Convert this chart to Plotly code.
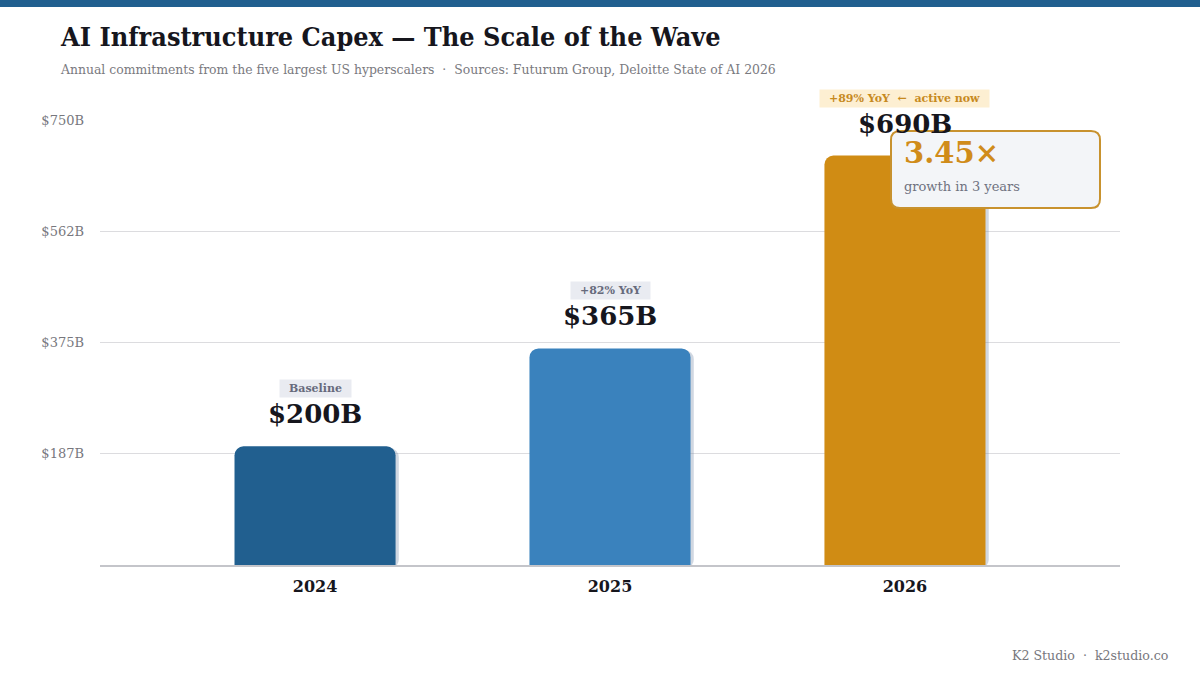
import plotly.graph_objects as go

years = ["2024", "2025", "2026"]
capex = [200, 365, 690]
bar_colors = ["#215f8f", "#3a82bd", "#d08c14"]
tags = ["Baseline", None, None]
y_ticks = [187.5, 375, 562.5, 750]

W, H = 1200, 675
L, R, T, B = 100, 80, 120, 110
SERIF = "DejaVu Serif"
COND = "DejaVu Serif Condensed, DejaVu Serif"


def px(x):
    return (x - L) / (W - L - R)


def py(y):
    return (H - B - y) / (H - T - B)


# YoY tags for the later years
for i in range(1, len(capex)):
    yoy = round((capex[i] / capex[i - 1] - 1) * 100)
    tags[i] = f"+{yoy}% YoY"
tags[-1] += "  ←  active now"
growth = capex[-1] / capex[0]

fig = go.Figure()

# soft shadow behind each bar
fig.add_trace(go.Bar(
    x=years, y=[v + 3 for v in capex], base=-6,
    width=0.546, offset=-0.262,
    marker=dict(color="rgba(120,140,170,0.35)", line=dict(width=0), cornerradius=9),
    hoverinfo="skip", showlegend=False,
))
fig.add_trace(go.Bar(
    x=years, y=capex, width=0.546,
    marker=dict(color=bar_colors, line=dict(width=0), cornerradius=9),
    hovertemplate="%{x}: $%{y}B<extra></extra>", showlegend=False,
))

for i, v in enumerate(capex):
    fig.add_annotation(x=i, y=v, text=f"<b>${v}B</b>", showarrow=False,
                       yanchor="bottom", yshift=15,
                       font=dict(family=SERIF, size=26, color="#16161d"))
    last = i == len(years) - 1
    fig.add_annotation(x=i, y=v, text=f"\u00a0\u00a0<b>{tags[i]}</b>\u00a0\u00a0",
                       showarrow=False, yanchor="bottom", yshift=48,
                       bgcolor="#fdefd2" if last else "#e9ebf1",
                       borderpad=2,
                       font=dict(family=SERIF, size=11,
                                 color="#c78a1e" if last else "#666a7c"))

shapes = [
    dict(type="rect", xref="paper", yref="paper", x0=px(0), x1=px(W),
         y0=py(7), y1=py(0), fillcolor="#215f8f", line=dict(width=0), layer="above"),
]

# callout box with rounded corners
x0, x1, y0, y1, r = 891, 1100, 131, 208, 9
path = (f"M {px(x0 + r)},{py(y0)} L {px(x1 - r)},{py(y0)} "
        f"Q {px(x1)},{py(y0)} {px(x1)},{py(y0 + r)} "
        f"L {px(x1)},{py(y1 - r)} Q {px(x1)},{py(y1)} {px(x1 - r)},{py(y1)} "
        f"L {px(x0 + r)},{py(y1)} Q {px(x0)},{py(y1)} {px(x0)},{py(y1 - r)} "
        f"L {px(x0)},{py(y0 + r)} Q {px(x0)},{py(y0)} {px(x0 + r)},{py(y0)} Z")
shapes.append(dict(type="path", xref="paper", yref="paper", path=path,
                   fillcolor="#f3f5f8", line=dict(color="#c8922e", width=2), layer="above"))

fig.add_annotation(xref="paper", yref="paper", x=px(902), y=py(153), xanchor="left",
                   yanchor="middle", showarrow=False, text=f"<b>{growth:.2f}×</b>",
                   font=dict(family=SERIF, size=29, color="#d08c1a"))
fig.add_annotation(xref="paper", yref="paper", x=px(902), y=py(186), xanchor="left",
                   yanchor="middle", showarrow=False, text="growth in 3 years",
                   font=dict(family=SERIF, size=13, color="#6f7280"))

fig.add_annotation(xref="paper", yref="paper", x=px(58), y=py(37), xanchor="left",
                   yanchor="middle", showarrow=False,
                   text="<b>AI Infrastructure Capex — The Scale of the Wave</b>",
                   font=dict(family=COND, size=26.8, color="#16161d"))
fig.add_annotation(xref="paper", yref="paper", x=px(58), y=py(69), xanchor="left",
                   yanchor="middle", showarrow=False,
                   text="Annual commitments from the five largest US hyperscalers  ·  "
                        "Sources: Futurum Group, Deloitte State of AI 2026",
                   font=dict(family=COND, size=13.8, color="#7a7a80"))
fig.add_annotation(xref="paper", yref="paper", x=px(1170), y=py(655), xanchor="right",
                   yanchor="middle", showarrow=False,
                   text="K2 Studio  ·  k2studio.co",
                   font=dict(family=SERIF, size=12.6, color="#77777d"))

fig.update_layout(
    width=W, height=H,
    margin=dict(l=L, r=R, t=T, b=B),
    paper_bgcolor="white", plot_bgcolor="white",
    barmode="overlay", bargap=0.45,
    shapes=shapes,
    xaxis=dict(type="category", range=[-0.729, 2.729], showgrid=False,
               showline=True, linecolor="#c4c5ca", linewidth=2,
               ticks="", ticklabelstandoff=6,
               tickfont=dict(family=SERIF, size=16, color="#16161d"),
               tickprefix="<b>", ticksuffix="</b>"),
    yaxis=dict(range=[0, 750], tickvals=y_ticks,
               ticktext=[f"${int(v)}B" for v in y_ticks],
               showgrid=True, gridcolor="#dcdcdf", gridwidth=1,
               zeroline=False, showline=False, ticks="",
               ticklabelstandoff=15,
               tickfont=dict(family=SERIF, size=13, color="#77777d")),
)

fig.write_html("out.html", config={"displayModeBar": False},
               post_script="document.body.style.margin='0';")
